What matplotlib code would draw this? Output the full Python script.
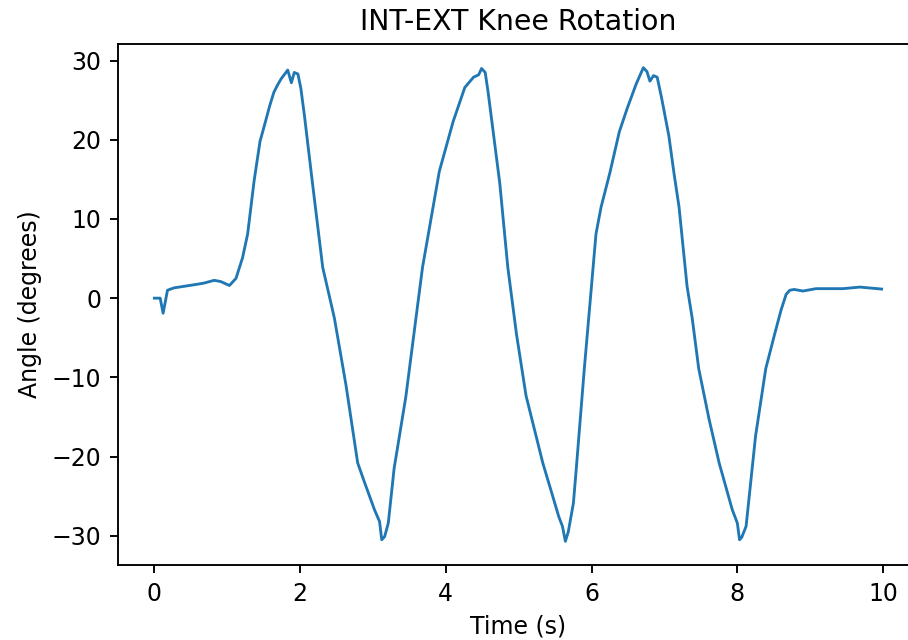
import matplotlib
matplotlib.use("Agg")
import matplotlib.pyplot as plt

# knee rotation angle
time_s = [0.00, 0.08, 0.12, 0.18, 0.27, 0.55, 0.68, 0.82, 0.91, 1.03, 1.12, 1.21, 1.28,
          1.37, 1.45, 1.51, 1.58, 1.64, 1.69, 1.74, 1.83, 1.88, 1.92, 1.97, 2.01, 2.06,
          2.17, 2.31, 2.47, 2.63, 2.79, 2.87, 3.02, 3.09, 3.12, 3.16, 3.21, 3.29, 3.45,
          3.59, 3.68, 3.80, 3.91, 4.10, 4.26, 4.38, 4.45, 4.49, 4.54, 4.58, 4.74, 4.85,
          4.97, 5.10, 5.33, 5.45, 5.55, 5.60, 5.64, 5.68, 5.75, 5.79, 5.90, 6.00, 6.06,
          6.13, 6.25, 6.38, 6.49, 6.61, 6.71, 6.76, 6.80, 6.85, 6.90, 6.96, 7.06, 7.13,
          7.20, 7.31, 7.38, 7.47, 7.61, 7.75, 7.93, 8.00, 8.03, 8.06, 8.12, 8.25, 8.39,
          8.51, 8.60, 8.67, 8.72, 8.78, 8.90, 9.08, 9.45, 9.68, 9.98]
angle_deg = [0.0, 0.0, -1.9, 1.0, 1.3, 1.7, 1.9, 2.25, 2.1, 1.6, 2.5, 5.1, 8.1,
             14.9, 19.8, 21.8, 24.2, 26.0, 26.9, 27.7, 28.8, 27.2, 28.5, 28.3, 26.5, 23.0,
             14.5, 3.9, -2.5, -11.0, -20.8, -22.9, -26.7, -28.2, -30.5, -30.1, -28.4, -21.5, -12.5,
             -2.5, 3.9, 10.2, 16.0, 22.3, 26.6, 27.9, 28.2, 29.0, 28.5, 26.0, 14.5, 3.9,
             -4.6, -12.3, -20.8, -24.5, -27.6, -28.8, -30.7, -29.5, -25.9, -21.5, -8.9, 1.7, 8.1,
             11.5, 15.8, 21.0, 24.0, 27.0, 29.1, 28.6, 27.4, 28.1, 27.9, 25.3, 20.5, 15.8,
             11.5, 1.5, -2.5, -8.9, -15.2, -20.8, -26.7, -28.4, -30.5, -30.2, -28.8, -17.4, -8.9,
             -4.6, -1.5, 0.5, 1.0, 1.1, 0.9, 1.2, 1.2, 1.4, 1.15]

dpi = 170
fig = plt.figure(figsize=(908 / dpi, 640 / dpi), dpi=dpi)
# the reference is cropped on the right, so the axes run past the figure edge
ax = fig.add_axes([118 / 908, 1 - 565 / 640, (918 - 118) / 908, (565 - 44) / 640])

ax.plot(time_s, angle_deg, color="C0", linewidth=1.2)
ax.set_title("INT-EXT Knee Rotation")
ax.set_xlabel("Time (s)")
ax.set_ylabel("Angle (degrees)")

fig.savefig("out.png", dpi=dpi)
